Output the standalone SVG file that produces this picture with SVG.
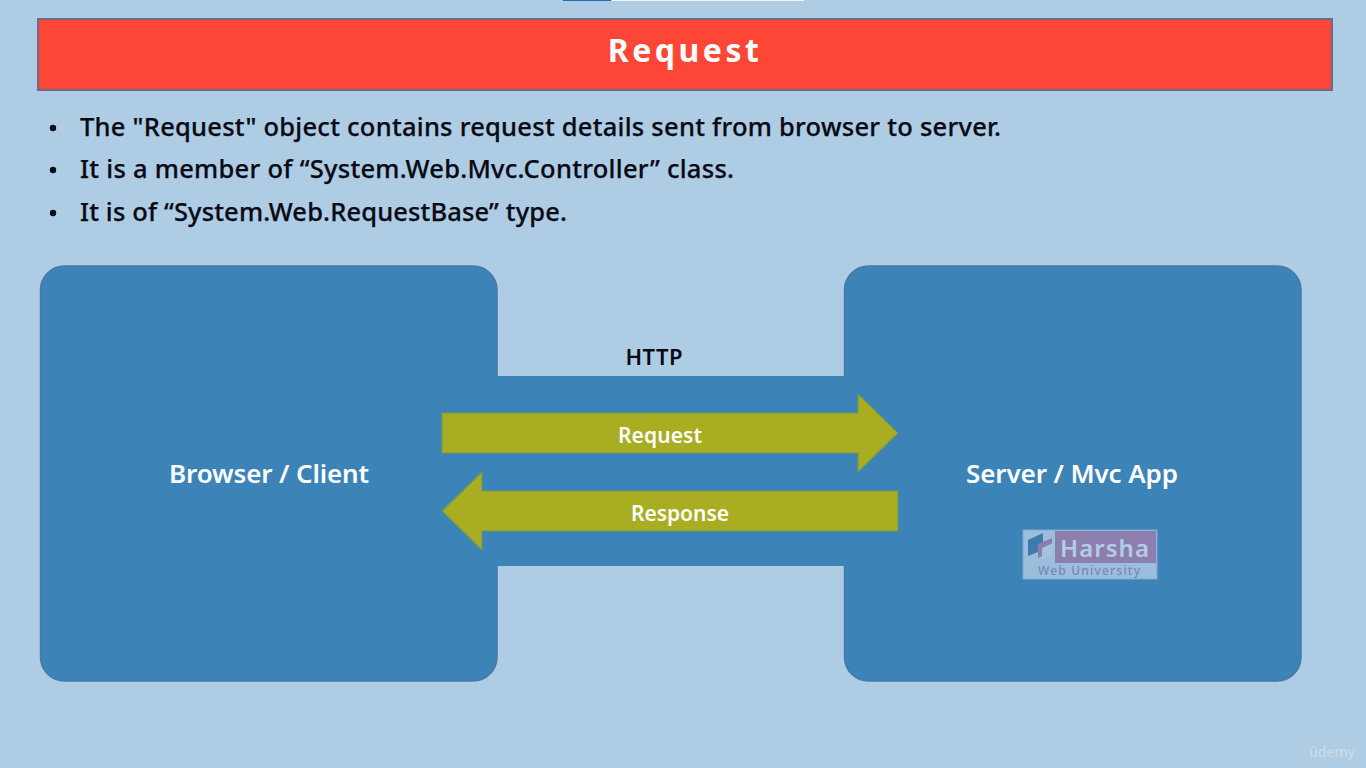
<svg xmlns="http://www.w3.org/2000/svg" width="1366" height="768" viewBox="0 0 1366 768">
<style>
text{font-family:"Noto Sans","Open Sans","DejaVu Sans",sans-serif;font-weight:600}
.b{font-size:25.5px;fill:#0a0a14;font-weight:500;stroke:#0a0a14;stroke-width:.25}
.w{fill:#fff;text-anchor:middle}
.box{fill:#3c83b8;stroke:#4a79a3;stroke-width:1.5}
.arrow{fill:#a9ad22;stroke:#6f9a52;stroke-width:1.2}
</style>
<rect width="1366" height="768" fill="#aecde5"/>
<rect x="563" y="0" width="48" height="1" fill="#1f6fc0"/>
<rect x="612" y="0" width="192" height="1" fill="#f2f6fa"/>
<g id="title">
<rect x="38" y="19" width="1294" height="71" fill="#fe4636" stroke="#6b6c88" stroke-width="2"/>
<text class="w" x="685" y="62" font-size="32" letter-spacing="3.5" style="font-weight:700">Request</text>
</g>
<g id="bullets">
<circle cx="53" cy="128" r="3.2" fill="#0a0a14"/>
<text class="b" x="80" y="136" textLength="921">The "Request" object contains request details sent from browser to server.</text>
<circle cx="53" cy="170" r="3.2" fill="#0a0a14"/>
<text class="b" x="80" y="178" textLength="654">It is a member of “System.Web.Mvc.Controller” class.</text>
<circle cx="53" cy="213" r="3.2" fill="#0a0a14"/>
<text class="b" x="80" y="221" textLength="487">It is of “System.Web.RequestBase” type.</text>
</g>
<g id="browser">
<rect class="box" x="40.5" y="266" width="456.5" height="415" rx="24"/>
<text class="w" x="269" y="483" font-size="26" textLength="200" style="font-weight:600">Browser / Client</text>
</g>
<g id="server">
<rect class="box" x="844.5" y="266" width="456.5" height="415" rx="24"/>
<text class="w" x="1072" y="483" font-size="26" textLength="212" style="font-weight:600">Server / Mvc App</text>
</g>
<g id="http-band">
<rect x="496" y="376" width="349" height="190" fill="#3c83b8"/>
<text x="654" y="365" font-size="22" fill="#0a0a14" text-anchor="middle" textLength="57">HTTP</text>
</g>
<g id="connectors">
<g id="request-arrow">
<polygon class="arrow" points="442,413 858,413 858,394 898,433 858,472 858,453 442,453"/>
<text class="w" x="660" y="443" font-size="21" textLength="84">Request</text>
</g>
<g id="response-arrow">
<polygon class="arrow" points="898,491 482,491 482,472 442,511 482,550 482,531 898,531"/>
<text class="w" x="680" y="521" font-size="21" textLength="98">Response</text>
</g>
</g>
<g id="watermark">
<rect x="1023" y="530" width="134" height="49" fill="#9cbedd" stroke="#7fa9d0" stroke-width="1"/>
<rect x="1055" y="531" width="101" height="32" fill="#8c7fb0"/>
<polygon points="1028,540 1043,533 1043,550 1028,556" fill="#3c7bab"/>
<polygon points="1038,544 1052,538 1052,552 1038,558" fill="#8c7fb0"/>
<polygon points="1042,548 1053,543 1053,555 1042,560" fill="#a5c3dd"/>
<text x="1060" y="557" font-size="24" fill="#b4cde3" textLength="89">Harsha</text>
<text x="1038" y="575" font-size="12" fill="#7b86b4" style="font-weight:500" textLength="102">Web University</text>
</g>
<text x="1309" y="757" font-size="14" fill="#c9dbea" style="font-weight:500" textLength="46">ûdemy</text>
</svg>
